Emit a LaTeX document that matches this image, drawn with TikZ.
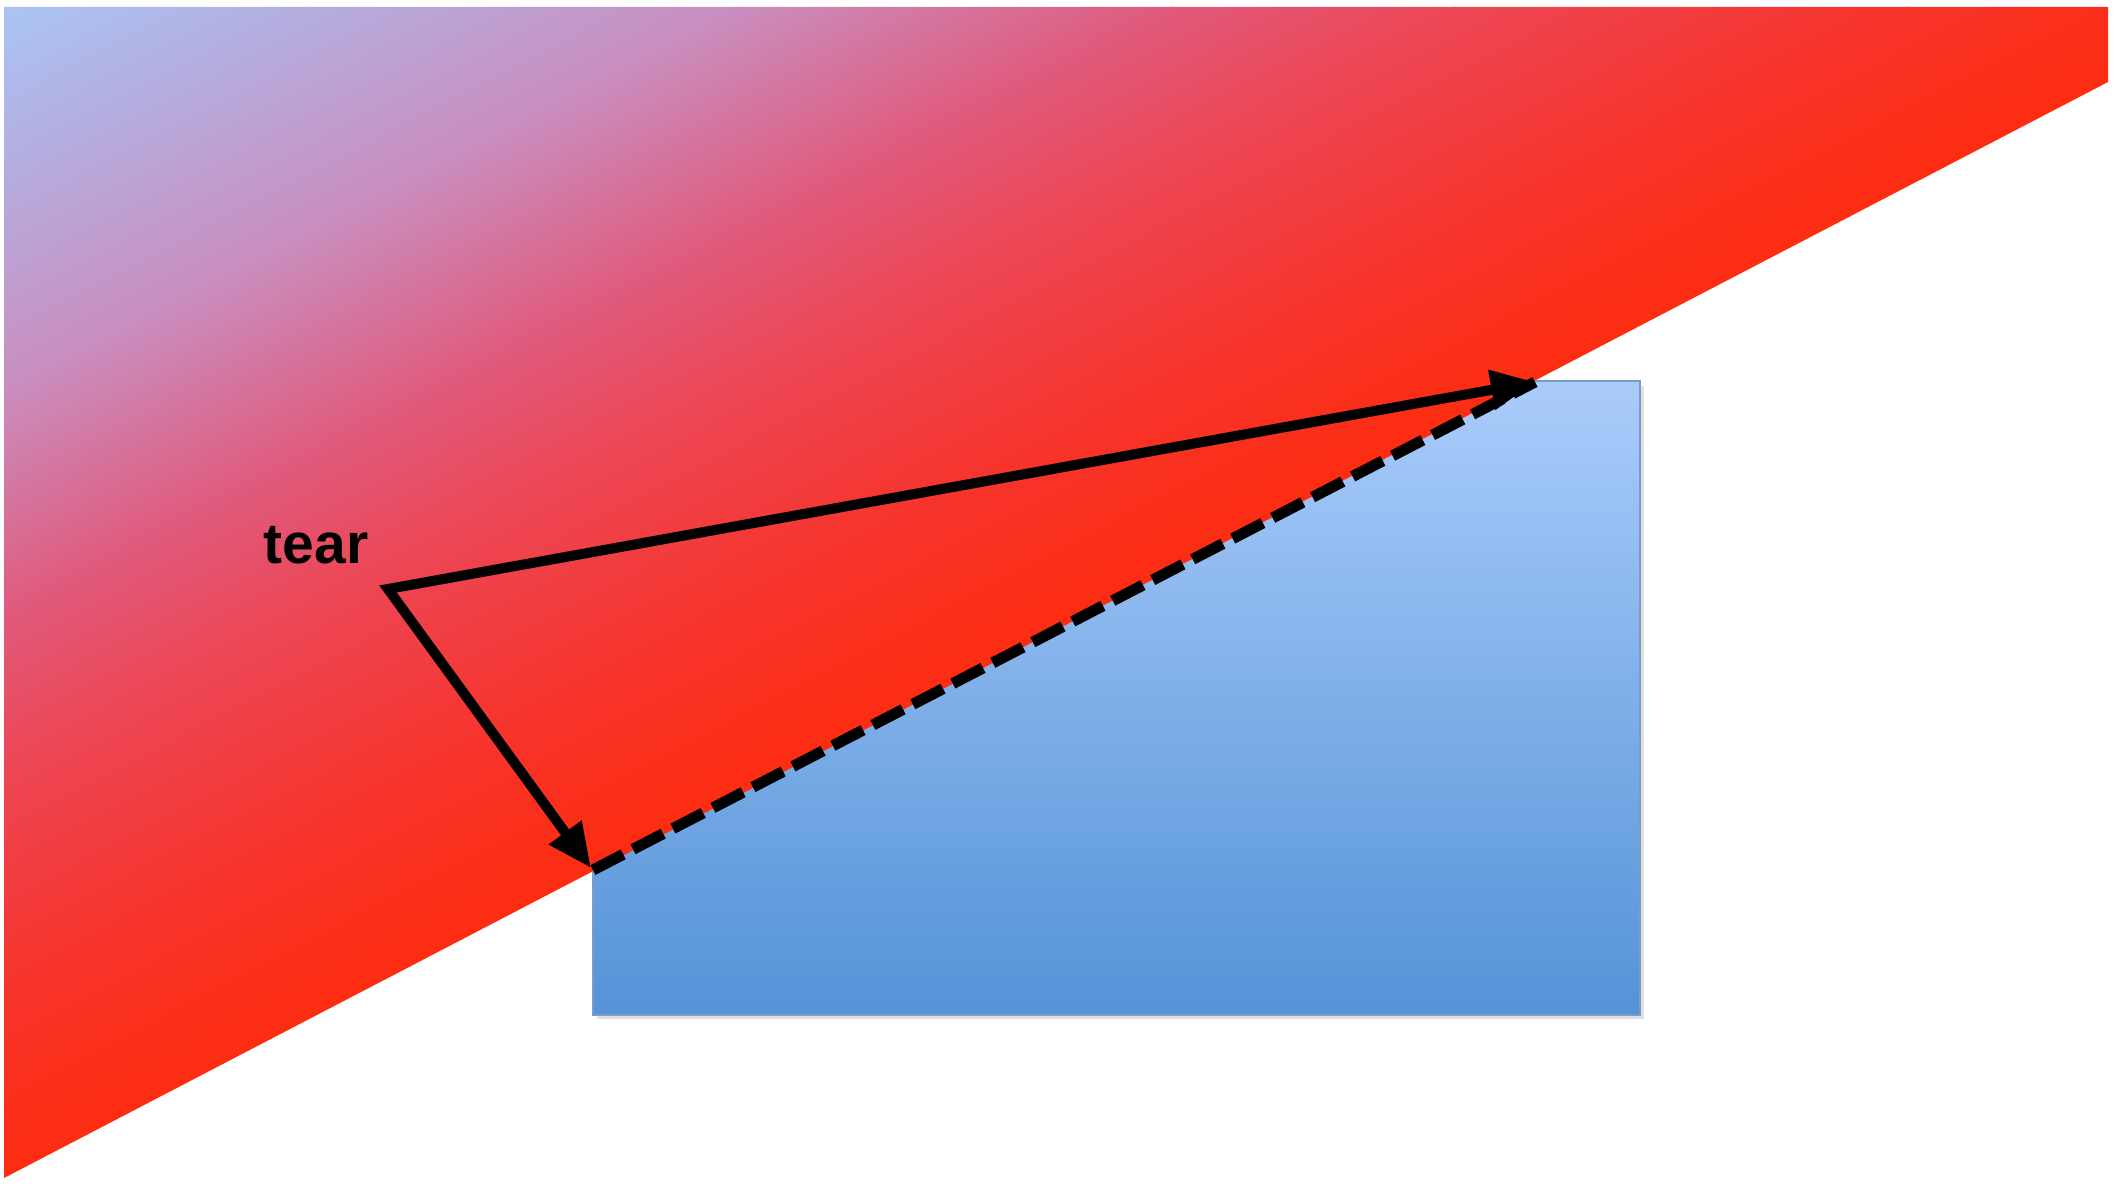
\documentclass[tikz,border=0pt]{standalone}
\usepackage{fontspec}
\setmainfont{Liberation Sans}
\usetikzlibrary{arrows.meta}

\definecolor{sheetA}{HTML}{FF2A05}
\definecolor{sheetB}{HTML}{F7332A}
\definecolor{sheetC}{HTML}{EC4756}
\definecolor{sheetD}{HTML}{E05A7C}
\definecolor{sheetE}{HTML}{C98EBF}
\definecolor{sheetF}{HTML}{B4AEE0}
\definecolor{sheetG}{HTML}{A9C5F3}
\definecolor{plateTop}{HTML}{AACCFB}
\definecolor{plateBot}{HTML}{5493D7}
\definecolor{plateEdge}{HTML}{7A9CC6}

\tikzset{
  band/.style 2 args={bottom color=#1, top color=#2},
  edgearrow/.style={line width=0.1cm, line join=miter,
    {Triangle[length=0.44cm,width=0.38cm]}-{Triangle[length=0.44cm,width=0.38cm]}},
  seam/.style={line width=0.11cm, dash pattern=on 0.34cm off 0.11cm},
}

\begin{document}
\begin{tikzpicture}[x=0.01cm,y=-0.01cm]
  \useasboundingbox (0,0) rectangle (2114,1188);

  \coordinate (nw) at (4,7);
  \coordinate (ne) at (2108,7);
  \coordinate (e) at (2108,82);
  \coordinate (sw) at (4,1178);

  \fill[black!12] (597,386) rectangle (1644,1019);
  \shade[top color=plateTop, bottom color=plateBot, draw=plateEdge, line width=0.5pt]
    (593,381) rectangle (1640,1015);

  \begin{scope}
    \clip (nw) -- (ne) -- (e) -- (sw) -- cycle;
    \begin{scope}[transform canvas={rotate around={27.51:(sw)}}]
      \shade[band={sheetA}{sheetB}] (-300,1250) rectangle (2700,1018);
      \shade[band={sheetB}{sheetC}] (-300,1020) rectangle (2700,808);
      \shade[band={sheetC}{sheetD}] (-300,810) rectangle (2700,678);
      \shade[band={sheetD}{sheetE}] (-300,680) rectangle (2700,478);
      \shade[band={sheetE}{sheetF}] (-300,480) rectangle (2700,278);
      \shade[band={sheetF}{sheetG}] (-300,280) rectangle (2700,138);
      \fill[sheetG] (-300,140) rectangle (2700,-200);
    \end{scope}
  \end{scope}

  \coordinate (tear) at (388,589);
  \coordinate (tip) at (1535,382);
  \coordinate (foot) at (591,868);
  \coordinate (seamstart) at (593,870);

  \node[anchor=base west, inner sep=0pt, font=\bfseries\fontsize{16.2}{19}\selectfont]
    (tearlabel) at (263,563) {tear};

  \draw[seam] (seamstart) -- (tip);
  \draw[edgearrow] (tip) -- (tear) -- (foot);
\end{tikzpicture}
\end{document}
